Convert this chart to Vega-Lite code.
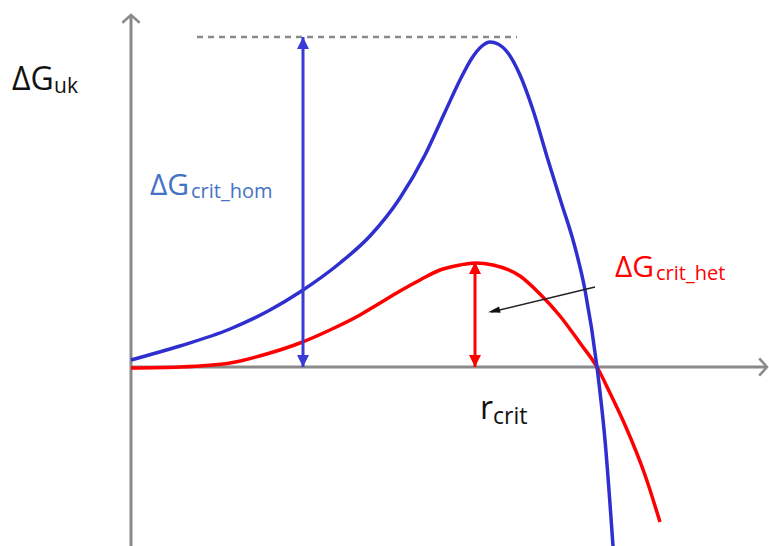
{
  "$schema": "https://vega.github.io/schema/vega-lite/v6.json",
  "width": 769,
  "height": 546,
  "padding": 0,
  "autosize": {"type": "none"},
  "background": "white",
  "config": {"view": {"stroke": null}},
  "datasets": {
    "blue": [
      {"x": 0, "y": 7}, {"x": 49, "y": 21}, {"x": 99, "y": 38}, {"x": 139, "y": 57},
      {"x": 169, "y": 75}, {"x": 209, "y": 104}, {"x": 239, "y": 131}, {"x": 269, "y": 169},
      {"x": 294, "y": 212}, {"x": 314, "y": 255}, {"x": 329, "y": 287}, {"x": 341, "y": 309},
      {"x": 351, "y": 321}, {"x": 359, "y": 325}, {"x": 367, "y": 323}, {"x": 377, "y": 314},
      {"x": 389, "y": 292}, {"x": 402, "y": 257}, {"x": 417, "y": 207}, {"x": 431, "y": 162},
      {"x": 442, "y": 127}, {"x": 454, "y": 77}, {"x": 466, "y": 0}, {"x": 474, "y": -73},
      {"x": 482, "y": -179}
    ],
    "red": [
      {"x": 0, "y": -1}, {"x": 49, "y": 0}, {"x": 99, "y": 4}, {"x": 139, "y": 14},
      {"x": 169, "y": 24}, {"x": 199, "y": 37}, {"x": 229, "y": 52}, {"x": 249, "y": 64},
      {"x": 269, "y": 76}, {"x": 289, "y": 87}, {"x": 309, "y": 97}, {"x": 329, "y": 102},
      {"x": 344, "y": 104}, {"x": 362, "y": 102}, {"x": 389, "y": 91},
      {"x": 409, "y": 73}, {"x": 429, "y": 51}, {"x": 449, "y": 24}, {"x": 466, "y": 0},
      {"x": 479, "y": -26}, {"x": 494, "y": -58}, {"x": 514, "y": -108}, {"x": 529, "y": -155}
    ],
    "axes": [
      {"x": 0, "y": -179, "x2": 0, "y2": 352},
      {"x": 0, "y": 0, "x2": 636, "y2": 0}
    ],
    "dash": [{"x": 66, "y": 330, "x2": 386, "y2": 330}],
    "bluearrow": [{"x": 172, "y": 0, "x2": 172, "y2": 330}],
    "redarrow": [{"x": 344, "y": 0, "x2": 344, "y2": 105}],
    "blackarrow": [{"x": 464, "y": 80, "x2": 360, "y2": 55}],
    "upTip": [{"x": 0, "y": 352}],
    "rightTip": [{"x": 636, "y": 0}],
    "blueHeadUp": [{"x": 172, "y": 324}],
    "blueHeadDown": [{"x": 172, "y": 6}],
    "redHeadUp": [{"x": 344, "y": 99}],
    "redHeadDown": [{"x": 344, "y": 6}],
    "blackHead": [{"x": 363, "y": 56}],
    "labelsBlack": [{"x": -119, "y": 277, "t": "ΔG"}],
    "subBlack": [{"x": -77, "y": 274, "t": "uk"}],
    "rLabel": [{"x": 349, "y": -52, "t": "r"}],
    "rSub": [{"x": 362, "y": -57, "t": "crit"}],
    "homMain": [{"x": 19, "y": 172, "t": "ΔG"}],
    "homSub": [{"x": 60, "y": 169, "t": "crit_hom"}],
    "hetMain": [{"x": 484, "y": 90, "t": "ΔG"}],
    "hetSub": [{"x": 525, "y": 87, "t": "crit_het"}]
  },
  "encoding": {
    "x": {"field": "x", "type": "quantitative", "scale": {"domain": [-131, 638], "nice": false, "zero": false}, "axis": null},
    "y": {"field": "y", "type": "quantitative", "scale": {"domain": [-179, 367], "nice": false, "zero": false}, "axis": null}
  },
  "layer": [
    {"data": {"name": "axes"}, "mark": {"type": "rule", "color": "#8a8a8a", "strokeWidth": 3},
     "encoding": {"x2": {"field": "x2"}, "y2": {"field": "y2"}}},
    {"data": {"name": "upTip"}, "mark": {"type": "point", "shape": "M-1,0.9L0,0L1,0.9", "filled": false, "stroke": "#8a8a8a", "strokeWidth": 2.5, "size": 300, "opacity": 1}},
    {"data": {"name": "rightTip"}, "mark": {"type": "point", "shape": "M-0.9,-1L0,0L-0.9,1", "filled": false, "stroke": "#8a8a8a", "strokeWidth": 2.5, "size": 300, "opacity": 1}},
    {"data": {"name": "dash"}, "mark": {"type": "rule", "color": "#8a8a8a", "strokeWidth": 2.5, "strokeDash": [6, 5]},
     "encoding": {"x2": {"field": "x2"}, "y2": {"field": "y2"}}},
    {"data": {"name": "red"}, "mark": {"type": "line", "color": "#ff0000", "strokeWidth": 3.5, "interpolate": "monotone"}},
    {"data": {"name": "blue"}, "mark": {"type": "line", "color": "#2f2fd0", "strokeWidth": 3.5, "interpolate": "monotone"}},
    {"data": {"name": "bluearrow"}, "mark": {"type": "rule", "color": "#3a3ad6", "strokeWidth": 3},
     "encoding": {"x2": {"field": "x2"}, "y2": {"field": "y2"}}},
    {"data": {"name": "blueHeadUp"}, "mark": {"type": "point", "shape": "M0,-1L-1,1L1,1Z", "filled": true, "color": "#3a3ad6", "size": 144, "opacity": 1}},
    {"data": {"name": "blueHeadDown"}, "mark": {"type": "point", "shape": "M0,1L-1,-1L1,-1Z", "filled": true, "color": "#3a3ad6", "size": 144, "opacity": 1}},
    {"data": {"name": "redarrow"}, "mark": {"type": "rule", "color": "#ff0000", "strokeWidth": 3},
     "encoding": {"x2": {"field": "x2"}, "y2": {"field": "y2"}}},
    {"data": {"name": "redHeadUp"}, "mark": {"type": "point", "shape": "M0,-1L-1,1L1,1Z", "filled": true, "color": "#ff0000", "size": 144, "opacity": 1}},
    {"data": {"name": "redHeadDown"}, "mark": {"type": "point", "shape": "M0,1L-1,-1L1,-1Z", "filled": true, "color": "#ff0000", "size": 144, "opacity": 1}},
    {"data": {"name": "blackarrow"}, "mark": {"type": "rule", "color": "#222222", "strokeWidth": 1.5},
     "encoding": {"x2": {"field": "x2"}, "y2": {"field": "y2"}}},
    {"data": {"name": "blackHead"}, "mark": {"type": "point", "shape": "M-1,0L1,-0.55L1,0.55Z", "filled": true, "color": "#111111", "size": 144, "angle": 347, "opacity": 1}},
    {"data": {"name": "labelsBlack"}, "mark": {"type": "text", "align": "left", "baseline": "alphabetic", "font": "Open Sans", "fontSize": 32, "color": "#111111"}, "encoding": {"text": {"field": "t"}}},
    {"data": {"name": "subBlack"}, "mark": {"type": "text", "align": "left", "baseline": "alphabetic", "font": "Open Sans", "fontSize": 21, "color": "#111111"}, "encoding": {"text": {"field": "t"}}},
    {"data": {"name": "rLabel"}, "mark": {"type": "text", "align": "left", "baseline": "alphabetic", "font": "Open Sans", "fontSize": 32, "color": "#111111"}, "encoding": {"text": {"field": "t"}}},
    {"data": {"name": "rSub"}, "mark": {"type": "text", "align": "left", "baseline": "alphabetic", "font": "Open Sans", "fontSize": 23, "color": "#111111"}, "encoding": {"text": {"field": "t"}}},
    {"data": {"name": "homMain"}, "mark": {"type": "text", "align": "left", "baseline": "alphabetic", "font": "Open Sans", "fontSize": 30, "color": "#4472c4"}, "encoding": {"text": {"field": "t"}}},
    {"data": {"name": "homSub"}, "mark": {"type": "text", "align": "left", "baseline": "alphabetic", "font": "Open Sans", "fontSize": 20, "color": "#4472c4"}, "encoding": {"text": {"field": "t"}}},
    {"data": {"name": "hetMain"}, "mark": {"type": "text", "align": "left", "baseline": "alphabetic", "font": "Open Sans", "fontSize": 30, "color": "#ff0000"}, "encoding": {"text": {"field": "t"}}},
    {"data": {"name": "hetSub"}, "mark": {"type": "text", "align": "left", "baseline": "alphabetic", "font": "Open Sans", "fontSize": 20, "color": "#ff0000"}, "encoding": {"text": {"field": "t"}}}
  ]
}
